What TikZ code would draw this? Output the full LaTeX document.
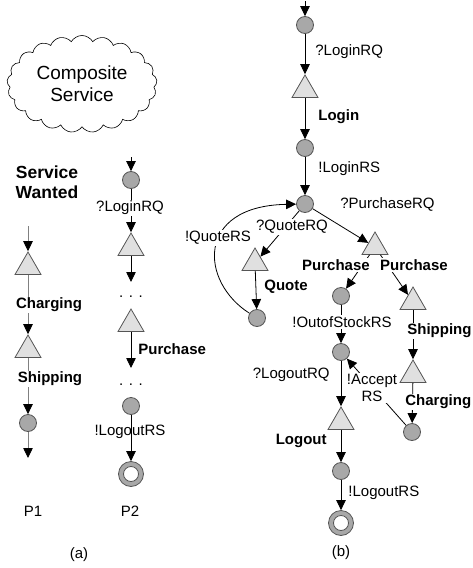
\documentclass[tikz,border=0pt]{standalone}
\usepackage{fontspec}
\setmainfont{Liberation Sans}
\usetikzlibrary{arrows.meta, shapes.geometric, shapes.symbols}

\definecolor{stategray}{HTML}{A8A8A8}
\definecolor{taskgray}{HTML}{E0E0E0}
\definecolor{edgegray}{HTML}{555555}

\begin{document}
\begin{tikzpicture}[
      x=1pt, y=-1pt, line width=0.8pt,
      >={Triangle[length=10pt,width=9.5pt,color=black]},
      state/.style={circle, draw=edgegray, fill=stategray, minimum size=17pt, inner sep=0pt},
      final/.style={circle, draw=edgegray, fill=stategray, minimum size=25pt, inner sep=0pt,
        path picture={\draw[edgegray, fill=white] (path picture bounding box.center) circle (7.5pt);}},
      task/.style={regular polygon, regular polygon sides=3, draw=edgegray, fill=taskgray,
        minimum size=30pt, inner sep=0pt},
      lbl/.style={font=\fontsize{15}{17}\selectfont, inner sep=1pt},
      blbl/.style={font=\fontsize{15}{17}\selectfont\bfseries, inner sep=1pt},
      mask/.style={fill=white},
      p1edge/.style={draw=gray}
    ]
      \useasboundingbox (0,0) rectangle (472,568);

      \node[cloud, draw, cloud puffs=21, cloud puff arc=120, aspect=1.6, line width=0.6pt,
        minimum width=150pt, minimum height=94pt, align=center,
        font=\fontsize{19}{22}\selectfont] (cloud) at (82,84) {Composite\\Service};
      \node[align=center, inner sep=1pt, font=\fontsize{17.5}{20}\selectfont\bfseries] (wanted) at (47,182) {Service\\Wanted};

      \coordinate (p1top) at (28,226);
      \node[task] (p1charge) at (28,267) {};
      \node[task] (p1ship) at (28,350) {};
      \node[state] (p1s) at (28,423) {};
      \coordinate (p1end) at (28,458);
      \draw[p1edge, ->] (p1top) -- (p1charge);
      \draw[p1edge, ->] (p1charge) -- (p1ship);
      \draw[p1edge, ->] (p1ship) -- (p1s);
      \draw[p1edge, ->] (p1s) -- (p1end);
      \node[blbl, mask] (p1chargelbl) at (49,305) {Charging};
      \node[blbl, mask] (p1shiplbl) at (50,379) {Shipping};

      \coordinate (p2top) at (131,157);
      \node[state] (p2s) at (131,180) {};
      \node[task] (p2login) at (131,248) {};
      \coordinate (p2gap) at (131,282);
      \node[task] (p2buy) at (131,324) {};
      \coordinate (p2gapb) at (131,368);
      \node[state] (p2t) at (131,406) {};
      \node[final] (p2end) at (131,474) {};
      \draw[->] (p2top) -- (p2s);
      \draw[->] (p2s) -- (p2login);
      \draw[->] (p2login) -- (p2gap);
      \draw[->] (p2buy) -- (p2gapb);
      \draw[->] (p2t) -- (p2end);
      \node[lbl, mask] (p2loginrq) at (130,208) {?LoginRQ};
      \node[lbl] (p2dots) at (131,297) {. . .};
      \node[blbl, anchor=west] (p2buylbl) at (137,349) {Purchase};
      \node[lbl] (p2dotsb) at (131,385) {. . .};
      \node[lbl] (p2logoutrs) at (130,432) {!LogoutRS};

      \node[lbl] (p1) at (33,511) {P1};
      \node[lbl] (p2) at (130,511) {P2};
      \node[lbl] (capa) at (79,555) {(a)};

      \coordinate (btop) at (305,1);
      \node[state] (b0) at (305,25) {};
      \node[task] (blogin) at (305,90) {};
      \node[state] (b1) at (305,148) {};
      \node[state] (b2) at (305,204) {};
      \node[task] (bquote) at (255,263) {};
      \node[state] (bq) at (257,318) {};
      \node[task] (bbuy) at (375,247) {};
      \node[state] (bstock) at (341,296) {};
      \node[state] (bout) at (341,352) {};
      \node[task] (bship) at (413,302) {};
      \node[task] (bcharge) at (413,375) {};
      \node[state] (bpaid) at (412,432) {};
      \node[task] (blogout) at (341,422) {};
      \node[state] (b3) at (341,471) {};
      \node[final] (bend) at (341,523) {};

      \draw[->] (btop) -- (b0);
      \draw[->] (b0) -- (blogin);
      \draw[->] (blogin) -- (b1);
      \draw[->] (b1) -- (b2);
      \draw[->] (b2) -- (bquote);
      \draw[->] (bquote) -- (bq);
      \draw[->] (bq) .. controls (200,282) and (195,206) .. (b2);
      \draw[->] (b2) -- (bbuy);
      \draw[->] (bbuy) -- (bstock);
      \draw[->] (bbuy) -- (bship);
      \draw[->] (bstock) -- (bout);
      \draw[->] (bship) -- (bcharge);
      \draw[->] (bcharge) -- (bpaid);
      \draw[->] (bpaid) -- (bout);
      \draw[->] (bout) -- (blogout);
      \draw[->] (blogout) -- (b3);
      \draw[->] (b3) -- (bend);

      \node[lbl, anchor=west] (loginrq) at (314,52) {?LoginRQ};
      \node[blbl, anchor=west] (loginlbl) at (317,117) {Login};
      \node[lbl, anchor=west] (loginrs) at (317,169) {!LoginRS};
      \node[lbl, anchor=west] (purchaserq) at (339,204) {?PurchaseRQ};
      \node[lbl, mask] (quoterq) at (292,227) {?QuoteRQ};
      \node[lbl, mask] (quoters) at (218,238) {!QuoteRS};
      \node[blbl, mask] (buyleft) at (336,265) {Purchase};
      \node[blbl, mask] (buyright) at (414,265) {Purchase};
      \node[blbl, anchor=west] (quotelbl) at (263,287) {Quote};
      \node[lbl, mask] (stockrs) at (342,322) {!OutofStockRS};
      \node[blbl, mask, anchor=west] (shiplbl) at (406,331) {Shipping};
      \node[lbl, anchor=east] (logoutrq) at (331,375) {?LogoutRQ};
      \node[lbl, mask, align=center] (acceptrs) at (372,388) {!Accept\\RS};
      \node[blbl, mask, anchor=west] (chargelbl) at (404,402) {Charging};
      \node[blbl, anchor=east] (logoutlbl) at (328,441) {Logout};
      \node[lbl, anchor=west] (logoutrs) at (347,493) {!LogoutRS};
      \node[lbl] (capb) at (341,553) {(b)};
    \end{tikzpicture}
\end{document}
